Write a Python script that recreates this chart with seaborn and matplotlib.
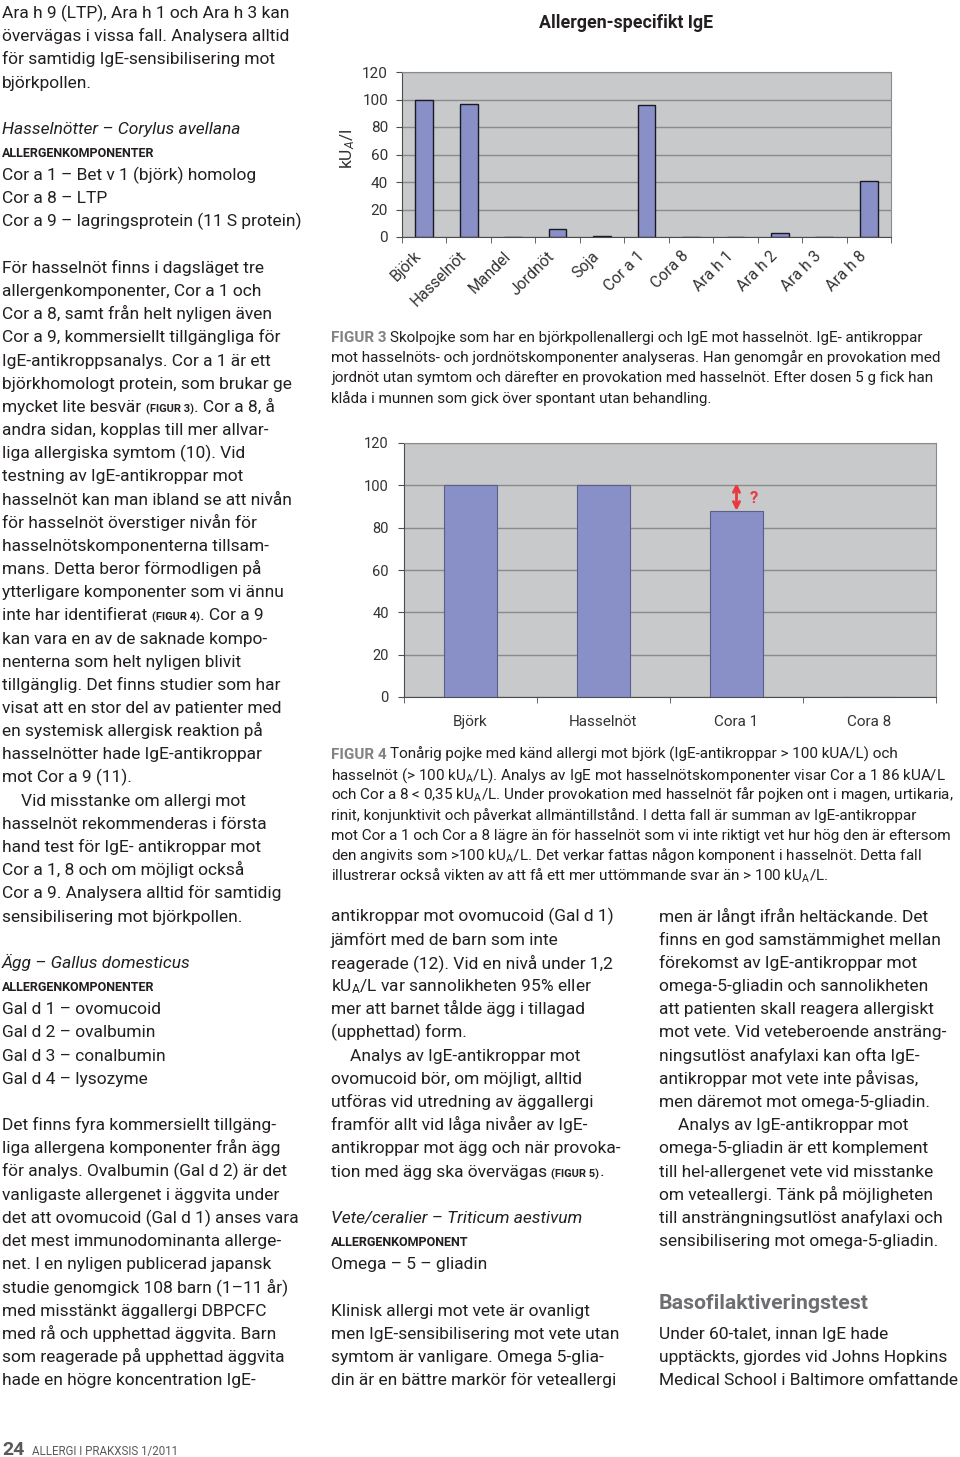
import numpy as np
import matplotlib
matplotlib.use("Agg")
import matplotlib.pyplot as plt
import matplotlib.transforms as mtransforms
import seaborn as sns

# --- data -------------------------------------------------------------
kategorier_fig3 = ["Björk", "Hasselnöt", "Mandel", "Jordnöt", "Soja", "Cor a 1",
                   "Cora 8", "Ara h 1", "Ara h 2", "Ara h 3", "Ara h 8"]
varden_fig3 = [100, 97, 0, 6, 1, 96, 0, 0, 3, 0, 41]
yticks_fig3 = [0, 20, 40, 60, 80, 100, 120]

kategorier_fig4 = ["Björk", "Hasselnöt", "Cora 1", "Cora 8"]
varden_fig4 = [100, 100, 88, 0]
yticks_fig4 = [0, 20, 40, 60, 80, 100, 120]
pil_fig4 = (88, 101)   # okänd skillnad markerad med pil

# --- text på sidan -----------------------------------------------------
KU = r"kU$_{\mathrm{A}}$"

vanster = [
    "Ara h 9 (LTP), Ara h 1 och Ara h 3 kan",
    "övervägas i vissa fall. Analysera alltid",
    "för samtidig IgE-sensibilisering mot",
    "björkpollen.",
    "",
    ("i", "Hasselnötter – Corylus avellana"),
    ("c", "ALLERGENKOMPONENTER"),
    "Cor a 1 – Bet v 1 (björk) homolog",
    "Cor a 8 – LTP",
    "Cor a 9 – lagringsprotein (11 S protein)",
    "",
    "För hasselnöt finns i dagsläget tre",
    "allergenkomponenter, Cor a 1 och",
    "Cor a 8, samt från helt nyligen även",
    "Cor a 9, kommersiellt tillgängliga för",
    "IgE-antikroppsanalys. Cor a 1 är ett",
    "björkhomologt protein, som brukar ge",
    ["mycket lite besvär ", ("f", "(FIGUR 3)"), ". Cor a 8, å"],
    "andra sidan, kopplas till mer allvar-",
    "liga allergiska symtom (10). Vid",
    "testning av IgE-antikroppar mot",
    "hasselnöt kan man ibland se att nivån",
    "för hasselnöt överstiger nivån för",
    "hasselnötskomponenterna tillsam-",
    "mans. Detta beror förmodligen på",
    "ytterligare komponenter som vi ännu",
    ["inte har identifierat ", ("f", "(FIGUR 4)"), ". Cor a 9"],
    "kan vara en av de saknade kompo-",
    "nenterna som helt nyligen blivit",
    "tillgänglig. Det finns studier som har",
    "visat att en stor del av patienter med",
    "en systemisk allergisk reaktion på",
    "hasselnötter hade IgE-antikroppar",
    "mot Cor a 9 (11).",
    ("n", "Vid misstanke om allergi mot"),
    "hasselnöt rekommenderas i första",
    "hand test för IgE- antikroppar mot",
    "Cor a 1, 8 och om möjligt också",
    "Cor a 9. Analysera alltid för samtidig",
    "sensibilisering mot björkpollen.",
    "",
    ("i", "Ägg – Gallus domesticus"),
    ("c", "ALLERGENKOMPONENTER"),
    "Gal d 1 – ovomucoid",
    "Gal d 2 – ovalbumin",
    "Gal d 3 – conalbumin",
    "Gal d 4 – lysozyme",
    "",
    "Det finns fyra kommersiellt tillgäng-",
    "liga allergena komponenter från ägg",
    "för analys. Ovalbumin (Gal d 2) är det",
    "vanligaste allergenet i äggvita under",
    "det att ovomucoid (Gal d 1) anses vara",
    "det mest immunodominanta allerge-",
    "net. I en nyligen publicerad japansk",
    "studie genomgick 108 barn (1–11 år)",
    "med misstänkt äggallergi DBPCFC",
    "med rå och upphettad äggvita. Barn",
    "som reagerade på upphettad äggvita",
    "hade en högre koncentration IgE-",
]

mitten = [
    "antikroppar mot ovomucoid (Gal d 1)",
    "jämfört med de barn som inte",
    "reagerade (12). Vid en nivå under 1,2",
    KU + "/L var sannolikheten 95% eller",
    "mer att barnet tålde ägg i tillagad",
    "(upphettad) form.",
    ("n", "Analys av IgE-antikroppar mot"),
    "ovomucoid bör, om möjligt, alltid",
    "utföras vid utredning av äggallergi",
    "framför allt vid låga nivåer av IgE-",
    "antikroppar mot ägg och när provoka-",
    ["tion med ägg ska övervägas ", ("f", "(FIGUR 5)"), "."],
    "",
    ("i", "Vete/ceralier – Triticum aestivum"),
    ("c", "ALLERGENKOMPONENT"),
    "Omega – 5 – gliadin",
    "",
    "Klinisk allergi mot vete är ovanligt",
    "men IgE-sensibilisering mot vete utan",
    "symtom är vanligare. Omega 5-glia-",
    "din är en bättre markör för veteallergi",
]

hoger = [
    "men är långt ifrån heltäckande. Det",
    "finns en god samstämmighet mellan",
    "förekomst av IgE-antikroppar mot",
    "omega-5-gliadin och sannolikheten",
    "att patienten skall reagera allergiskt",
    "mot vete. Vid veteberoende ansträng-",
    "ningsutlöst anafylaxi kan ofta IgE-",
    "antikroppar mot vete inte påvisas,",
    "men däremot mot omega-5-gliadin.",
    ("n", "Analys av IgE-antikroppar mot"),
    "omega-5-gliadin är ett komplement",
    "till hel-allergenet vete vid misstanke",
    "om veteallergi. Tänk på möjligheten",
    "till ansträngningsutlöst anafylaxi och",
    "sensibilisering mot omega-5-gliadin.",
    "",
    "",
    "",
    "Under 60-talet, innan IgE hade",
    "upptäckts, gjordes vid Johns Hopkins",
    "Medical School i Baltimore omfattande",
]

figur3_text = [
    [("F", "FIGUR 3 "), "Skolpojke som har en björkpollenallergi och IgE mot hasselnöt. IgE- antikroppar"],
    "mot hasselnöts- och jordnötskomponenter analyseras. Han genomgår en provokation med",
    "jordnöt utan symtom och därefter en provokation med hasselnöt. Efter dosen 5 g fick han",
    "klåda i munnen som gick över spontant utan behandling.",
]
figur4_text = [
    [("F", "FIGUR 4 "), "Tonårig pojke med känd allergi mot björk (IgE-antikroppar > 100 kUA/L) och"],
    "hasselnöt (> 100 " + KU + "/L). Analys av IgE mot hasselnötskomponenter visar Cor a 1 86 kUA/L",
    "och Cor a 8 < 0,35 " + KU + "/L. Under provokation med hasselnöt får pojken ont i magen, urtikaria,",
    "rinit, konjunktivit och påverkat allmäntillstånd. I detta fall är summan av IgE-antikroppar",
    "mot Cor a 1 och Cor a 8 lägre än för hasselnöt som vi inte riktigt vet hur hög den är eftersom",
    "den angivits som >100 " + KU + "/L. Det verkar fattas någon komponent i hasselnöt. Detta fall",
    "illustrerar också vikten av att få ett mer uttömmande svar än > 100 " + KU + "/L.",
]

# --- stil -------------------------------------------------------------
plt.rcParams["font.family"] = ["Roboto", "DejaVu Sans"]
plt.rcParams["mathtext.fontset"] = "custom"
plt.rcParams["mathtext.rm"] = "Roboto"
plt.rcParams["mathtext.it"] = "Roboto:italic"
plt.rcParams["mathtext.bf"] = "Roboto:bold"

W, H = 960, 1457
TXT = "#231f20"
GRA = "#808285"
BAR = "#8990c8"
BAKGRUND = "#c8c9cb"
RUTNAT = "#8a8b8d"

BODY = dict(fontsize=12.55, color=TXT)
STIL = {
    "b": BODY,
    "n": BODY,
    "i": dict(fontsize=12.55, color=TXT, style="italic"),
    "c": dict(fontsize=9.0, color=TXT, weight="bold"),
    "f": dict(fontsize=8.0, color=TXT, weight="bold"),
}
CAP = dict(fontsize=11.0, color=TXT)
CAPSTIL = {"b": CAP, "F": dict(fontsize=11.0, color=GRA, weight="bold")}

fig = plt.figure(figsize=(W / 100, H / 100), dpi=100)
bg = fig.add_axes([0, 0, 1, 1])
bg.set_xlim(0, W)
bg.set_ylim(H, 0)
bg.axis("off")


def rad(x, y, innehall, stilar):
    """Skriver en rad; innehall kan vara sträng, (stil, sträng) eller lista av delar."""
    if isinstance(innehall, str):
        delar = [("b", innehall)]
    elif isinstance(innehall, tuple):
        delar = [innehall]
    else:
        delar = [d if isinstance(d, tuple) else ("b", d) for d in innehall]
    if delar[0][0] == "n":
        x += 19
    forsta = bg.text(x, y, delar[0][1], ha="left", va="baseline", **stilar[delar[0][0]])
    prev = forsta
    for s, t in delar[1:]:
        prev = bg.annotate(t, xy=(1, 0), xycoords=(prev, forsta), ha="left", va="bottom",
                           **stilar[s])
    return forsta


def spalt(x, forsta_rad, rader):
    for i, r in enumerate(rader):
        if r:
            rad(x, 18 + (forsta_rad + i) * 23.17, r, STIL)


def px_axes(l, t, r, b):
    return fig.add_axes([l / W, 1 - b / H, (r - l) / W, (b - t) / H])


# --- brödtext ---------------------------------------------------------
spalt(2, 0, vanster)
spalt(331, 39, mitten)
spalt(659, 39, hoger)

bg.text(659, 1309, "Basofilaktiveringstest", fontsize=15.3, weight="bold", color="#6d6e71",
        ha="left", va="baseline")

for i, r in enumerate(figur3_text):
    rad(331, 342 + i * 20.2, r, CAPSTIL)
for i, r in enumerate(figur4_text):
    rad(331, 759 + i * 20.2, r, CAPSTIL)

bg.text(2, 1455, "24", fontsize=14, weight="bold", color="#58595b", ha="left", va="baseline")
bg.text(32, 1455, "ALLERGI I PRAKXSIS 1/2011", fontsize=8.3, color="#58595b",
        ha="left", va="baseline")


def stil_axel(ax, n, yticks):
    ax.set_facecolor(BAKGRUND)
    ax.set_ylim(yticks[0], yticks[-1])
    ax.set_yticks(yticks)
    ax.set_xlim(-0.5, n - 0.5)
    ax.set_xticks(np.arange(-0.5, n, 1), minor=True)
    ax.yaxis.grid(True, color=RUTNAT, lw=1)
    ax.set_axisbelow(True)
    ax.set_xlabel("")
    ax.set_ylabel("")
    for side in ["top", "right"]:
        ax.spines[side].set_color(RUTNAT)
    for side in ["left", "bottom"]:
        ax.spines[side].set_color("#4d4d4f")
    ax.tick_params(axis="x", which="major", length=0)
    ax.tick_params(axis="x", which="minor", length=4, color="#4d4d4f")
    ax.tick_params(axis="y", length=4, color="#4d4d4f", labelcolor="#333333")


# --- FIGUR 3 ----------------------------------------------------------
ax1 = px_axes(402, 72, 891, 237)
sns.barplot(x=kategorier_fig3, y=varden_fig3, ax=ax1, color=BAR, saturation=1,
            width=0.4, edgecolor="#1a1a24", linewidth=1)
stil_axel(ax1, len(kategorier_fig3), yticks_fig3)
ax1.tick_params(axis="y", labelsize=11, pad=6)
ax1.tick_params(axis="x", which="major", labelsize=11.3, pad=12, labelcolor="#333333")
skift = mtransforms.ScaledTranslation(-5 / 100, 0, fig.dpi_scale_trans)
for lab in ax1.get_xticklabels():
    lab.set_rotation(45)
    lab.set_ha("right")
    lab.set_va("center")
    lab.set_rotation_mode("anchor")
    lab.set_transform(lab.get_transform() + skift)
bg.text(348, 149, r"kU$_{A}$/l", rotation=90, fontsize=12.5, color="#333333",
        ha="center", va="center")
bg.text(626, 23, "Allergen-specifikt IgE", fontsize=12.8, weight="bold", color=TXT,
        ha="center", va="center")

# --- FIGUR 4 ----------------------------------------------------------
ax2 = px_axes(404, 443, 936, 697)
sns.barplot(x=kategorier_fig4, y=varden_fig4, ax=ax2, color=BAR, saturation=1,
            width=0.4, edgecolor="#5a5f88", linewidth=0.8)
stil_axel(ax2, len(kategorier_fig4), yticks_fig4)
ax2.tick_params(axis="y", labelsize=10.5, pad=7)
ax2.tick_params(axis="x", which="major", labelsize=11, pad=13, labelcolor="#333333")
ax2.annotate("", xy=(2, pil_fig4[1]), xytext=(2, pil_fig4[0]),
             arrowprops=dict(arrowstyle="<->", color="#e8383d", lw=2, shrinkA=0, shrinkB=0,
                             mutation_scale=11))
ax2.text(2.13, 94, "?", color="#e8383d", fontsize=12, weight="bold", ha="center", va="center")

fig.savefig("out.png", dpi=100)
